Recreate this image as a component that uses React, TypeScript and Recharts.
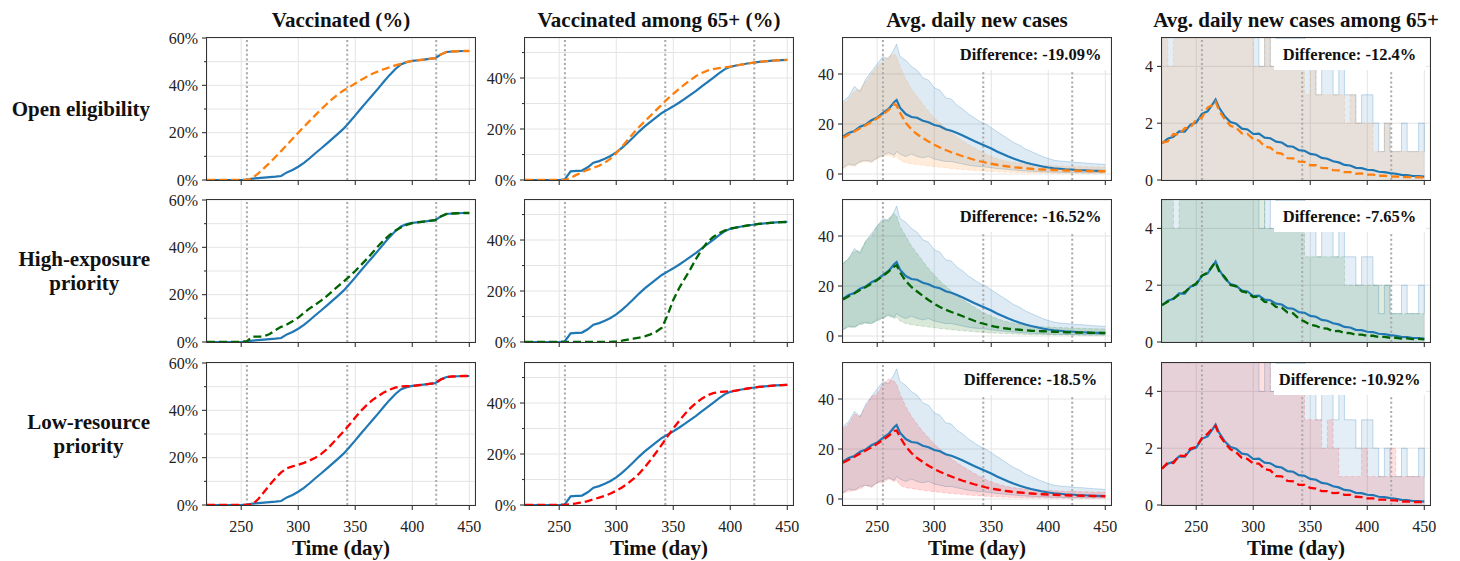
import React from "react";
import {
  ComposedChart,
  Line,
  Area,
  XAxis,
  YAxis,
  CartesianGrid,
  ReferenceLine,
} from "recharts";

// day axis (267 kept for the sharp case peak)
const days = [
  220, 225, 230, 235, 240, 245, 250, 255, 260, 265, 267,
  270, 275, 280, 285, 290, 295, 300, 305, 310, 315,
  320, 325, 330, 335, 340, 345, 350, 355, 360, 365,
  370, 375, 380, 385, 390, 395, 400, 405, 410, 415,
  420, 425, 430, 435, 440, 445, 450,
];
const xTicks = [250, 300, 350, 400, 450];
const phaseDays = [255, 343, 421];

// --- Vaccinated (%) ---
const vaccBase = [
  0, 0, 0, 0, 0, 0, 0, 0.2, 0.6, 0.8, 0.9,
  1.0, 1.2, 1.4, 1.7, 3.2, 4.2, 5.6, 7.2, 9.2, 11.3,
  13.3, 15.4, 17.5, 19.6, 21.8, 24.5, 27.3, 30.2, 33.0, 35.8,
  38.6, 41.5, 44.3, 46.8, 48.8, 49.8, 50.3, 50.6, 50.9, 51.2,
  51.5, 53.0, 54.1, 54.3, 54.4, 54.5, 54.5,
];
const vaccOpen = [
  0, 0, 0, 0, 0, 0, 0, 0, 0.9, 2.8, 3.7,
  5.0, 7.3, 9.7, 12.2, 14.8, 17.4, 20.0, 22.5, 25.0, 27.4,
  29.8, 32.1, 34.3, 36.3, 37.9, 39.3, 40.8, 42.3, 43.6, 44.9,
  45.9, 46.8, 47.6, 48.4, 49.1, 49.8, 50.3, 50.6, 50.9, 51.2,
  51.5, 53.0, 54.1, 54.3, 54.4, 54.5, 54.5,
];
const vaccHigh = [
  0, 0, 0, 0, 0, 0, 0, 0.4, 2.3, 2.3, 2.3,
  2.4, 3.4, 5.0, 6.4, 7.4, 8.8, 10.3, 12.3, 14.2, 15.8,
  17.5, 19.4, 21.5, 23.6, 25.6, 27.7, 30.0, 32.5, 35.0, 37.7,
  40.5, 43.0, 45.2, 47.0, 48.4, 49.5, 50.2, 50.6, 50.9, 51.2,
  51.5, 53.0, 54.1, 54.3, 54.4, 54.5, 54.5,
];
const vaccLow = [
  0, 0, 0, 0, 0, 0, 0, 0, 0.3, 2.5, 3.7,
  5.5, 8.5, 11.3, 13.8, 15.5, 16.3, 17.0, 17.8, 18.8, 20.0,
  21.5, 23.5, 26.0, 28.6, 31.2, 34.0, 37.0, 39.8, 42.2, 44.3,
  46.0, 47.5, 48.7, 49.6, 50.1, 50.2, 50.3, 50.6, 50.9, 51.2,
  51.5, 53.0, 54.1, 54.3, 54.4, 54.5, 54.5,
];

// --- Vaccinated among 65+ (%) ---
const eldBase = [
  0, 0, 0, 0, 0, 0, 0, 0.3, 3.4, 3.6, 3.6,
  3.7, 5.0, 6.8, 7.4, 8.3, 9.4, 10.8, 12.6, 14.6, 16.8,
  19.0, 21.0, 22.8, 24.6, 26.3, 27.6, 28.9, 30.3, 31.8, 33.4,
  35.0, 36.7, 38.4, 40.1, 41.8, 43.4, 44.4, 44.9, 45.3, 45.7,
  46.0, 46.3, 46.5, 46.7, 46.9, 47.0, 47.1,
];
const eldOpen = [
  0, 0, 0, 0, 0, 0, 0, 0, 0.8, 2.0, 2.4,
  3.0, 4.0, 4.8, 5.6, 6.8, 8.4, 10.5, 13.0, 15.7, 18.3,
  20.8, 23.0, 25.2, 27.4, 29.6, 31.8, 33.8, 35.7, 37.5, 39.2,
  40.8, 42.0, 42.9, 43.5, 43.9, 44.2, 44.5, 44.9, 45.3, 45.7,
  46.0, 46.3, 46.5, 46.7, 46.9, 47.0, 47.1,
];
const eldHigh = [
  0, 0, 0, 0, 0, 0, 0, 0, 0, 0, 0,
  0, 0, 0, 0, 0, 0, 0.2, 0.5, 0.9, 1.3,
  1.7, 2.2, 3.0, 4.0, 5.6, 10.5, 16.5, 21.0, 24.8, 28.6,
  32.6, 36.3, 39.2, 41.2, 42.6, 43.7, 44.5, 44.9, 45.3, 45.7,
  46.0, 46.3, 46.5, 46.7, 46.9, 47.0, 47.1,
];
const eldLow = [
  0, 0, 0, 0, 0, 0, 0, 0, 0.3, 0.6, 0.8,
  1.0, 1.5, 2.2, 2.9, 3.6, 4.5, 5.6, 6.9, 8.4, 10.2,
  12.3, 14.8, 17.6, 20.6, 23.7, 26.9, 30.0, 32.9, 35.6, 38.0,
  40.0, 41.7, 43.0, 43.9, 44.3, 44.5, 44.6, 44.9, 45.3, 45.7,
  46.0, 46.3, 46.5, 46.7, 46.9, 47.0, 47.1,
];

// --- Avg. daily new cases (mean, lower, upper) ---
const caseBase = [
  15.0, 16.4, 17.2, 18.9, 19.8, 21.5, 22.6, 24.4, 26.0, 28.8, 29.6,
  26.5, 24.0, 22.8, 22.5, 21.3, 20.7, 19.6, 19.1, 17.9, 17.3,
  16.4, 15.4, 14.3, 13.2, 12.2, 11.2, 10.2, 9.0, 8.0, 7.0,
  6.1, 5.3, 4.6, 4.0, 3.5, 3.0, 2.6, 2.3, 2.1, 1.9,
  1.8, 1.6, 1.5, 1.4, 1.3, 1.25, 1.2,
];
const caseBaseLo = [
  2.5, 4, 3.5, 5, 5.5, 5, 6.5, 7.5, 8.5, 7.5, 9,
  8, 7, 8, 7, 6.5, 7, 6, 5.5, 5, 5,
  4.5, 4, 3.5, 3.2, 3, 2.8, 2.5, 2.2, 2, 1.8,
  1.6, 1.4, 1.2, 1.1, 1, 0.9, 0.8, 0.7, 0.7, 0.6,
  0.6, 0.6, 0.5, 0.5, 0.5, 0.5, 0.5,
];
const caseBaseHi = [
  29, 31, 35, 33, 38, 41, 44, 47, 46, 50, 52,
  47, 45.5, 43, 41.5, 38.5, 37.5, 34.5, 33.5, 30.5, 30,
  27.5, 26, 24, 22.5, 21, 20, 18.5, 17, 15.5, 14,
  12.5, 11.5, 10, 9, 8, 7, 6.2, 5.5, 5.2, 5,
  4.8, 4.6, 4.5, 4.3, 4.1, 4.0, 3.8,
];
const caseOpen = [
  14.5, 15.8, 17.0, 18.3, 19.5, 20.8, 22.3, 23.8, 25.6, 28.0, 27.4,
  24.5, 20.5, 17.8, 15.9, 14.4, 13.0, 11.7, 10.6, 9.6, 8.7,
  7.9, 7.1, 6.4, 5.7, 5.1, 4.6, 4.1, 3.7, 3.3, 3.0,
  2.7, 2.5, 2.3, 2.1, 1.9, 1.8, 1.7, 1.6, 1.5, 1.4,
  1.35, 1.3, 1.25, 1.2, 1.15, 1.1, 1.1,
];
const caseOpenLo = [
  2, 3.5, 3, 4.5, 5, 4.5, 6, 7, 7.5, 6.5, 7,
  5.5, 4.5, 4, 3.8, 3.5, 3.2, 3, 2.7, 2.5, 2.2,
  2, 1.8, 1.6, 1.4, 1.3, 1.1, 1.0, 0.9, 0.8, 0.7,
  0.6, 0.55, 0.5, 0.45, 0.4, 0.4, 0.4, 0.35, 0.35, 0.3,
  0.3, 0.3, 0.3, 0.3, 0.3, 0.3, 0.3,
];
const caseOpenHi = [
  28, 30, 33, 34, 37, 40, 43, 45, 47, 48, 47,
  43, 38, 34, 31, 28, 25, 22.5, 20.5, 18.5, 16.5,
  14.8, 13.2, 11.8, 10.5, 9.2, 8.0, 7.0, 6.2, 5.5, 5.0,
  4.6, 4.3, 4.0, 3.8, 3.6, 3.5, 3.4, 3.3, 3.2, 3.1,
  3.0, 3.0, 2.9, 2.9, 2.8, 2.8, 2.7,
];
const caseHigh = [
  14.6, 15.9, 17.1, 18.4, 19.6, 20.9, 22.4, 24.0, 25.8, 27.8, 28.3,
  25.5, 22.0, 19.6, 17.8, 16.0, 14.4, 12.9, 11.6, 10.5, 9.6,
  8.8, 7.9, 7.0, 6.1, 5.3, 4.7, 4.1, 3.6, 3.2, 2.9,
  2.7, 2.5, 2.3, 2.1, 2.0, 1.9, 1.8, 1.7, 1.6, 1.5,
  1.45, 1.4, 1.35, 1.3, 1.25, 1.2, 1.2,
];
const caseHighLo = [
  2.5, 3.5, 3.5, 4.5, 5, 5, 6, 7, 8, 7, 7.5,
  6, 5, 4.5, 4.2, 3.9, 3.6, 3.3, 3.0, 2.8, 2.5,
  2.3, 2.1, 1.9, 1.7, 1.5, 1.3, 1.2, 1.1, 1.0, 0.9,
  0.8, 0.7, 0.6, 0.55, 0.5, 0.5, 0.45, 0.4, 0.4, 0.4,
  0.35, 0.35, 0.35, 0.3, 0.3, 0.3, 0.3,
];
const caseHighHi = [
  29, 31, 34, 34, 38, 40, 44, 46, 47, 49, 48,
  44, 40, 36, 33, 30, 27, 24.5, 22, 20, 18,
  16.2, 14.5, 13, 11.6, 10.2, 9.0, 8.0, 7.0, 6.2, 5.6,
  5.1, 4.7, 4.4, 4.1, 3.9, 3.7, 3.6, 3.5, 3.4, 3.3,
  3.2, 3.1, 3.0, 3.0, 2.9, 2.9, 2.8,
];
const caseLow = [
  14.5, 15.7, 16.9, 18.2, 19.4, 20.7, 22.1, 23.6, 25.3, 27.2, 27.4,
  24.8, 21.0, 18.4, 16.4, 14.8, 13.3, 12.0, 10.9, 9.9, 9.0,
  8.1, 7.3, 6.6, 5.9, 5.3, 4.7, 4.2, 3.8, 3.4, 3.1,
  2.8, 2.6, 2.4, 2.2, 2.0, 1.9, 1.8, 1.7, 1.6, 1.5,
  1.4, 1.35, 1.3, 1.25, 1.2, 1.15, 1.1,
];
const caseLowLo = [
  2.5, 3, 3.5, 4, 5.5, 4.5, 6.5, 6.5, 8, 7, 7.5,
  5.5, 4.5, 4.2, 3.8, 3.5, 3.2, 2.9, 2.7, 2.4, 2.2,
  2.0, 1.8, 1.6, 1.4, 1.3, 1.1, 1.0, 0.9, 0.8, 0.7,
  0.6, 0.55, 0.5, 0.45, 0.4, 0.4, 0.4, 0.35, 0.35, 0.3,
  0.3, 0.3, 0.3, 0.3, 0.3, 0.3, 0.3,
];
const caseLowHi = [
  28, 30, 34, 33, 37, 41, 42, 46, 48, 47, 46,
  42, 37, 33, 30, 27, 24.5, 22, 20, 18, 16.2,
  14.5, 13, 11.6, 10.3, 9.0, 7.8, 6.9, 6.1, 5.4, 4.9,
  4.5, 4.2, 4.0, 3.8, 3.6, 3.5, 3.4, 3.3, 3.2, 3.1,
  3.0, 3.0, 2.9, 2.9, 2.8, 2.8, 2.7,
];

// --- Avg. daily new cases among 65+ (mean, upper; lower is 0) ---
const eldCaseBase = [
  1.29, 1.45, 1.52, 1.71, 1.70, 1.95, 2.02, 2.33, 2.42, 2.71, 2.83,
  2.55, 2.24, 2.04, 1.98, 1.81, 1.78, 1.62, 1.63, 1.49, 1.47,
  1.35, 1.32, 1.19, 1.17, 1.05, 1.03, 0.92, 0.89, 0.78, 0.75,
  0.66, 0.62, 0.53, 0.51, 0.43, 0.42, 0.36, 0.35, 0.29, 0.28,
  0.24, 0.22, 0.18, 0.17, 0.14, 0.14, 0.12,
];
const eldCaseBaseHi = [
  6, 6, 6, 6, 6, 6, 6, 6, 6, 6, 6,
  6, 6, 6, 6, 6, 6, 6, 4, 6, 4,
  5, 5, 5, 5, 5, 4, 4, 3, 4, 4,
  3, 4, 3, 3, 2, 3, 3, 2, 1, 2,
  1, 1, 2, 1, 1, 2, 1,
];
const eldCaseOpen = [
  1.32, 1.36, 1.62, 1.60, 1.83, 1.85, 2.13, 2.20, 2.55, 2.66, 2.75,
  2.45, 2.14, 1.91, 1.84, 1.64, 1.62, 1.44, 1.39, 1.18, 1.14,
  0.96, 0.93, 0.77, 0.76, 0.65, 0.64, 0.52, 0.52, 0.43, 0.42,
  0.35, 0.34, 0.28, 0.28, 0.22, 0.23, 0.19, 0.19, 0.15, 0.15,
  0.12, 0.13, 0.10, 0.11, 0.09, 0.10, 0.08,
];
const eldCaseOpenHi = [
  6, 4, 6, 5, 6, 6, 6, 6, 6, 6, 6,
  6, 6, 6, 6, 6, 6, 4, 4, 5, 4,
  4, 4, 4, 4, 4, 3, 4, 3, 3, 3,
  3, 3, 2, 3, 2, 2, 2, 1, 1, 2,
  1, 1, 1, 1, 1, 1, 1,
];
const eldCaseHigh = [
  1.30, 1.42, 1.52, 1.67, 1.76, 1.94, 2.06, 2.34, 2.44, 2.72, 2.80,
  2.50, 2.29, 2.01, 1.96, 1.78, 1.74, 1.58, 1.60, 1.41, 1.40,
  1.24, 1.21, 1.04, 1.01, 0.82, 0.72, 0.60, 0.57, 0.48, 0.47,
  0.38, 0.39, 0.32, 0.31, 0.26, 0.26, 0.22, 0.22, 0.18, 0.18,
  0.15, 0.15, 0.12, 0.13, 0.10, 0.11, 0.09,
];
const eldCaseHighHi = [
  6, 6, 4, 6, 6, 6, 6, 6, 6, 6, 6,
  6, 6, 6, 6, 6, 6, 6, 6, 4, 4,
  4, 4, 4, 4, 4, 3, 3, 3, 3, 3,
  3, 3, 2, 2, 2, 2, 2, 2, 2, 2,
  1, 1, 1, 1, 1, 1, 1,
];
const eldCaseLow = [
  1.28, 1.49, 1.48, 1.74, 1.72, 1.99, 2.04, 2.36, 2.51, 2.74, 2.78,
  2.48, 2.19, 1.96, 1.86, 1.66, 1.62, 1.46, 1.46, 1.26, 1.22,
  1.02, 1.01, 0.85, 0.83, 0.71, 0.71, 0.60, 0.58, 0.49, 0.49,
  0.42, 0.43, 0.36, 0.36, 0.29, 0.28, 0.23, 0.23, 0.19, 0.19,
  0.16, 0.16, 0.12, 0.13, 0.10, 0.11, 0.09,
];
const eldCaseLowHi = [
  6, 6, 6, 6, 5, 6, 6, 6, 6, 6, 6,
  6, 6, 6, 6, 6, 6, 6, 6, 6, 4,
  4, 4, 4, 4, 4, 3, 3, 3, 2, 3,
  2, 1, 1, 1, 1, 2, 1, 1, 1, 1,
  2, 1, 1, 1, 1, 1, 1,
];

const scenarios = [
  {
    label: ["Open eligibility"],
    color: "#ff7f0e",
    vacc: vaccOpen,
    eld: eldOpen,
    cases: caseOpen,
    casesLo: caseOpenLo,
    casesHi: caseOpenHi,
    eldCases: eldCaseOpen,
    eldCasesHi: eldCaseOpenHi,
    diff: "Difference: -19.09%",
    diff65: "Difference: -12.4%",
  },
  {
    label: ["High-exposure", "priority"],
    color: "#006400",
    vacc: vaccHigh,
    eld: eldHigh,
    cases: caseHigh,
    casesLo: caseHighLo,
    casesHi: caseHighHi,
    eldCases: eldCaseHigh,
    eldCasesHi: eldCaseHighHi,
    diff: "Difference: -16.52%",
    diff65: "Difference: -7.65%",
  },
  {
    label: ["Low-resource", "priority"],
    color: "#ff0000",
    vacc: vaccLow,
    eld: eldLow,
    cases: caseLow,
    casesLo: caseLowLo,
    casesHi: caseLowHi,
    eldCases: eldCaseLow,
    eldCasesHi: eldCaseLowHi,
    diff: "Difference: -18.5%",
    diff65: "Difference: -10.92%",
  },
];

const columns = [
  { title: "Vaccinated (%)", domain: [0, 60], ticks: [0, 10, 20, 30, 40, 50, 60], pct: true },
  { title: "Vaccinated among 65+ (%)", domain: [0, 55.7], ticks: [0, 10, 20, 30, 40, 50], pct: true },
  { title: "Avg. daily new cases", domain: [-2.4, 54.4], ticks: [0, 20, 40], pct: false },
  { title: "Avg. daily new cases among 65+", domain: [0, 5], ticks: [0, 2, 4], pct: false },
];

const FONT = "'Liberation Serif', 'Times New Roman', Times, serif";
const BLUE = "#1f77b4";
const COL_X = [207, 525, 843, 1162];
const ROW_Y = [38, 200, 363];
const PLOT_W = 268;
const PLOT_H = 142;
const AXIS_W = 60;
const PAD_T = 14;
const PAD_R = 6;

function YTick(props: any) {
  const { x, y, payload, pct } = props;
  const v = payload.value;
  const major = !pct || v % 20 === 0;
  const len = major ? 5 : 3;
  return (
    <g>
      <line x1={x - len} x2={x} y1={y} y2={y} stroke="#333" strokeWidth={1.1} />
      {major && (
        <text x={x - 9} y={y + 5.5} textAnchor="end" fontSize={16} fontFamily={FONT} fill="#222">
          {pct ? `${v}%` : v}
        </text>
      )}
    </g>
  );
}

function XTick(props: any) {
  const { x, y, payload, show } = props;
  return (
    <g>
      <line x1={x} x2={x} y1={y} y2={y + 5} stroke="#333" strokeWidth={1.1} />
      {show && (
        <text x={x} y={y + 27} textAnchor="middle" fontSize={16} fontFamily={FONT} fill="#222">
          {payload.value}
        </text>
      )}
    </g>
  );
}

function Panel({ row, col, sc }: { row: number; col: number; sc: any }) {
  const cfg = columns[col];
  const last = row === 2;
  const xh = last ? 32 : 8;
  const left = COL_X[col];
  const top = ROW_Y[row];

  const data = days.map((day, i) => {
    if (col === 0) return { day, base: vaccBase[i], comp: sc.vacc[i] };
    if (col === 1) return { day, base: eldBase[i], comp: sc.eld[i] };
    if (col === 2)
      return {
        day,
        base: caseBase[i],
        comp: sc.cases[i],
        baseBand: [caseBaseLo[i], caseBaseHi[i]],
        compBand: [sc.casesLo[i], sc.casesHi[i]],
      };
    return {
      day,
      base: eldCaseBase[i],
      comp: sc.eldCases[i],
      baseBand: eldCaseBaseHi[i],
      compBand: sc.eldCasesHi[i],
    };
  });

  const hasBand = col >= 2;
  const bandType = col === 3 ? "stepAfter" : "linear";
  const bandOpacity = col === 3 ? 0.12 : 0.15;

  return (
    <>
      <div style={{ position: "absolute", left: left - AXIS_W, top: top - PAD_T }}>
        <ComposedChart
          width={AXIS_W + PLOT_W + PAD_R}
          height={PAD_T + PLOT_H + xh}
          data={data}
          margin={{ top: PAD_T, right: PAD_R, left: 0, bottom: 0 }}
        >
          <CartesianGrid stroke="#e4e4e4" strokeWidth={1} />
          <XAxis
            dataKey="day"
            type="number"
            domain={[220, 455]}
            ticks={xTicks}
            interval={0}
            height={xh}
            axisLine={false}
            tickLine={false}
            tickSize={0}
            tickMargin={0}
            allowDataOverflow
            tick={(p: any) => <XTick {...p} show={last} />}
          />
          <YAxis
            type="number"
            domain={cfg.domain}
            ticks={cfg.ticks}
            interval={0}
            width={AXIS_W}
            axisLine={false}
            tickLine={false}
            tickSize={0}
            tickMargin={0}
            allowDataOverflow
            tick={(p: any) => <YTick {...p} pct={cfg.pct} />}
          />
          {hasBand && (
            <Area
              dataKey="baseBand"
              type={bandType}
              stroke={BLUE}
              strokeOpacity={0.25}
              strokeWidth={1}
              fill={BLUE}
              fillOpacity={bandOpacity}
              baseValue={col === 3 ? 0 : undefined}
              dot={false}
              activeDot={false}
              isAnimationActive={false}
            />
          )}
          {hasBand && (
            <Area
              dataKey="compBand"
              type={bandType}
              stroke={sc.color}
              strokeOpacity={0.15}
              strokeWidth={1}
              strokeDasharray="4 2"
              fill={sc.color}
              fillOpacity={bandOpacity}
              baseValue={col === 3 ? 0 : undefined}
              dot={false}
              activeDot={false}
              isAnimationActive={false}
            />
          )}
          {phaseDays.map((d) => (
            <ReferenceLine key={d} x={d} stroke="#a8a8a8" strokeWidth={2} strokeDasharray="2 2.6" />
          ))}
          <Line
            dataKey="base"
            type="linear"
            stroke={BLUE}
            strokeWidth={2.2}
            dot={false}
            activeDot={false}
            isAnimationActive={false}
          />
          <Line
            dataKey="comp"
            type="linear"
            stroke={sc.color}
            strokeWidth={2.3}
            strokeDasharray="8 4"
            dot={false}
            activeDot={false}
            isAnimationActive={false}
          />
        </ComposedChart>
      </div>
      {hasBand && (
        <div
          style={{
            position: "absolute",
            left: left + PLOT_W * 0.7 - 76,
            top: top + 1,
            width: 152,
            height: 31,
            lineHeight: "32px",
            background: "#fff",
            textAlign: "center",
            fontSize: 16.5,
            fontWeight: 700,
            whiteSpace: "nowrap",
          }}
        >
          {col === 2 ? sc.diff : sc.diff65}
        </div>
      )}
      <div
        style={{
          position: "absolute",
          left: left - 0.65,
          top: top - 0.65,
          width: PLOT_W + 1.3,
          height: PLOT_H + 1.3,
          border: "1.3px solid #333",
          boxSizing: "border-box",
          pointerEvents: "none",
        }}
      />
    </>
  );
}

export default function App() {
  return (
    <div
      style={{
        position: "absolute",
        left: 0,
        top: 0,
        width: 1460,
        height: 561,
        background: "#fff",
        fontFamily: FONT,
        color: "#111",
        overflow: "hidden",
      }}
    >
      {columns.map((c, ci) => (
        <div
          key={"t" + ci}
          style={{
            position: "absolute",
            left: COL_X[ci] - 60,
            width: PLOT_W + 120,
            top: 8,
            textAlign: "center",
            fontSize: 21,
            fontWeight: 700,
            lineHeight: "24px",
            whiteSpace: "nowrap",
          }}
        >
          {c.title}
        </div>
      ))}
      {scenarios.map((sc, ri) => (
        <React.Fragment key={ri}>
          <div
            style={{
              position: "absolute",
              left: 0,
              width: 150,
              top: ROW_Y[ri],
              height: PLOT_H,
              display: "flex",
              alignItems: "center",
              justifyContent: "flex-end",
            }}
          >
            <div style={{ textAlign: "center", fontSize: 21, fontWeight: 700, lineHeight: "24px" }}>
              {sc.label.map((l, k) => (
                <div key={k}>{l}</div>
              ))}
            </div>
          </div>
          {columns.map((c, ci) => (
            <Panel key={ci} row={ri} col={ci} sc={sc} />
          ))}
        </React.Fragment>
      ))}
      {columns.map((c, ci) => (
        <div
          key={"x" + ci}
          style={{
            position: "absolute",
            left: COL_X[ci],
            width: PLOT_W,
            top: 536,
            textAlign: "center",
            fontSize: 21,
            fontWeight: 700,
            lineHeight: "24px",
          }}
        >
          Time (day)
        </div>
      ))}
    </div>
  );
}
